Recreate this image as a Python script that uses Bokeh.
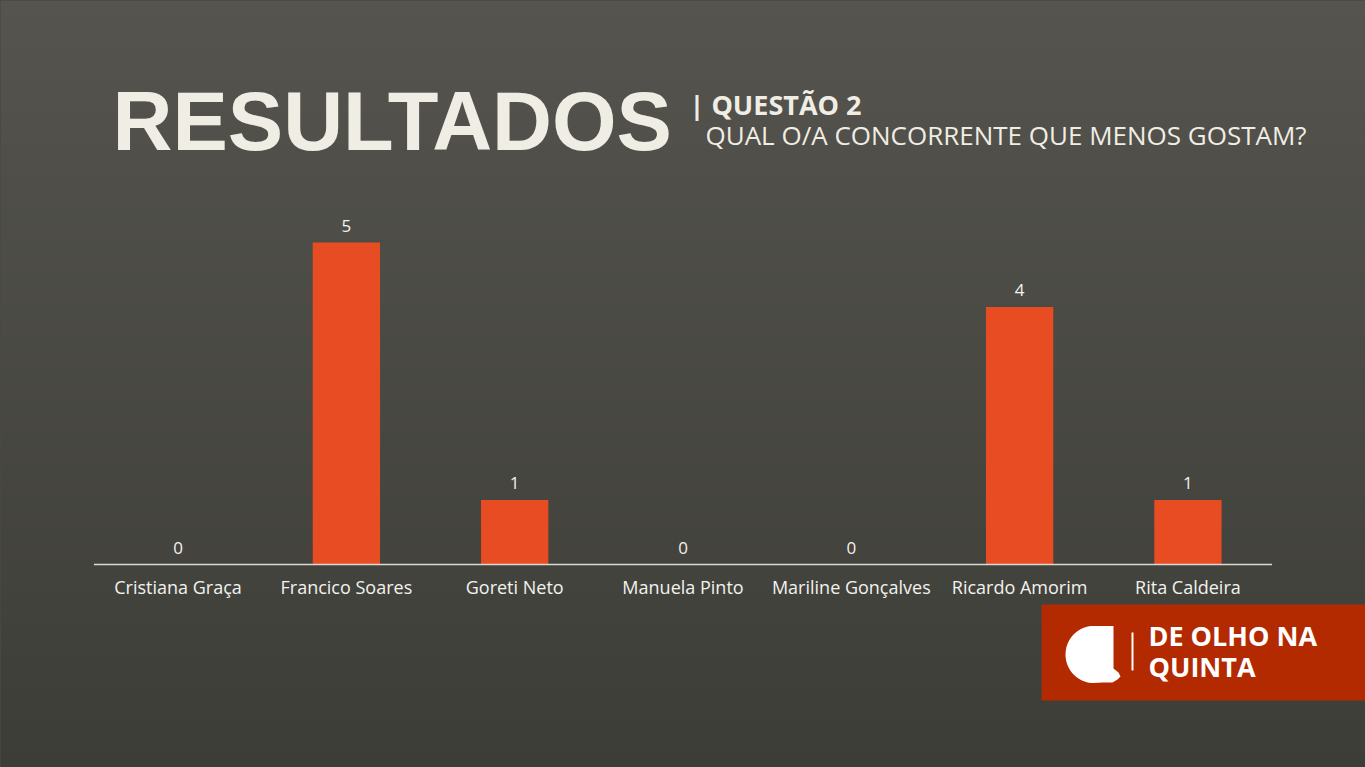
import numpy as np
from bokeh.plotting import figure
from bokeh.models import (ColumnDataSource, Range1d, FactorRange, Label, BoxAnnotation,
                          PolyAnnotation)
from bokeh.core.properties import value
from bokeh.embed import file_html
from bokeh.resources import INLINE

# ---- data ----
candidates = ["Cristiana Graça", "Francico Soares", "Goreti Neto", "Manuela Pinto",
              "Mariline Gonçalves", "Ricardo Amorim", "Rita Caldeira"]
votes = [0, 5, 1, 0, 0, 4, 1]
title_main = "RESULTADOS"
title_q = "| QUESTÃO 2"
title_sub = "QUAL O/A CONCORRENTE QUE MENOS GOSTAM?"
brand = ["DE OLHO NA", "QUINTA"]

BG = "#4a4944"
BG_TOP = (0x55, 0x54, 0x4e)
BG_BOT = (0x3d, 0x3d, 0x38)
BAR = "#e84c22"
CREAM = "#efede4"
FONT = "Open Sans"

W, H = 1365, 767
zero_from_bottom = H - 564
px_per_unit = 64.4

src = ColumnDataSource(dict(x=candidates, y=votes, lab=[str(v) for v in votes]))

p = figure(x_range=FactorRange(factors=candidates, range_padding=0.555,
                               range_padding_units="absolute"),
           y_range=Range1d(-zero_from_bottom / px_per_unit, (H - zero_from_bottom) / px_per_unit),
           width=W, height=H, output_backend="svg", toolbar_location=None,
           x_axis_location=None, y_axis_location=None,
           min_border=0)
p.background_fill_color = BG
p.border_fill_color = BG
p.outline_line_color = None
p.grid.visible = False

# background vertical shading (decorative)
nb = 48
bh = H / nb
for i in range(nb):
    t = (i + 0.5) / nb
    c = tuple(int(round(a + (b - a) * t)) for a, b in zip(BG_TOP, BG_BOT))
    p.add_layout(BoxAnnotation(left=0, right=W, top=H - i * bh, bottom=H - (i + 1) * bh - 1,
                               left_units="screen", right_units="screen",
                               top_units="screen", bottom_units="screen",
                               fill_color="#%02x%02x%02x" % c, fill_alpha=1,
                               line_color=None, level="underlay"))

p.vbar(x="x", top="y", width=0.4, source=src, color=BAR, line_color=None)

# baseline (category axis line)
p.segment(x0=[(candidates[0], -0.5)], y0=[0], x1=[(candidates[-1], 0.5)], y1=[0],
          line_color="#d9d9d4", line_width=1.3)

# value labels
p.text(x="x", y="y", text="lab", source=src, y_offset=-17,
       text_align="center", text_baseline="middle",
       text_color="#f2f2ee", text_font=value(FONT), text_font_size="17px")

# category labels
p.text(x=candidates, y=[0] * len(candidates), text=candidates, y_offset=22,
       text_align="center", text_baseline="middle",
       text_color="#f2f2ee", text_font=value(FONT), text_font_size="18px")

# ---- screen helpers (frame == canvas == page) ----
def sy(ry):
    return H - ry

def base(ry, size):
    # requested y so the alphabetic baseline lands on reference row ry
    return sy(ry - 0.45 * size)

p.add_layout(Label(x=112, y=base(158, 83), x_units="screen", y_units="screen",
                   text=title_main, text_font="Liberation Sans", text_font_style="bold",
                   text_font_size="83px", text_color=CREAM,
                   text_baseline="alphabetic"))
p.add_layout(Label(x=689, y=base(116, 27), x_units="screen", y_units="screen",
                   text=title_q, text_font=FONT, text_font_style="bold",
                   text_font_size="27px", text_color=CREAM,
                   text_baseline="alphabetic"))
p.add_layout(Label(x=705, y=base(146, 26), x_units="screen", y_units="screen",
                   text=title_sub, text_font=FONT,
                   text_font_size="26px", text_color=CREAM,
                   text_baseline="alphabetic"))

# ---- brand box ----
p.add_layout(BoxAnnotation(left=1041, right=W, top=sy(604), bottom=sy(700),
                           left_units="screen", right_units="screen",
                           top_units="screen", bottom_units="screen",
                           fill_color="#b32900", fill_alpha=1, line_color=None,
                           level="overlay"))
p.add_layout(BoxAnnotation(left=1131, right=1133, top=sy(632), bottom=sy(670),
                           left_units="screen", right_units="screen",
                           top_units="screen", bottom_units="screen",
                           fill_color="white", fill_alpha=1, line_color=None,
                           level="overlay"))
# stylised "a" mark
ang = np.linspace(np.pi / 2, 3 * np.pi / 2, 40)
cx, cy, rx, ry = 1093, 654, 28, 28.5
xs = list(cx + rx * np.cos(ang)) + [1102, 1112, 1117, 1120, 1118, 1113, 1113, 1113]
ys = list(cy - ry * np.sin(ang)) + [682, 682, 679, 676, 672, 668, 640, 625.5]
p.add_layout(PolyAnnotation(xs=xs, ys=[sy(v) for v in ys],
                            xs_units="screen", ys_units="screen",
                            fill_color="white", fill_alpha=1, line_color=None,
                            level="overlay"))
for t, b in zip(brand, [647, 678]):
    p.add_layout(Label(x=1148, y=base(b, 27), x_units="screen", y_units="screen",
                       text=t, text_font=FONT, text_font_style="bold",
                       text_font_size="27px", text_color="white",
                       text_baseline="alphabetic", level="overlay"))

html = file_html(p, INLINE)
html = html.replace("</head>", "<style>html,body{background:%s;}</style></head>" % BG, 1)
open("out.html", "w").write(html)
